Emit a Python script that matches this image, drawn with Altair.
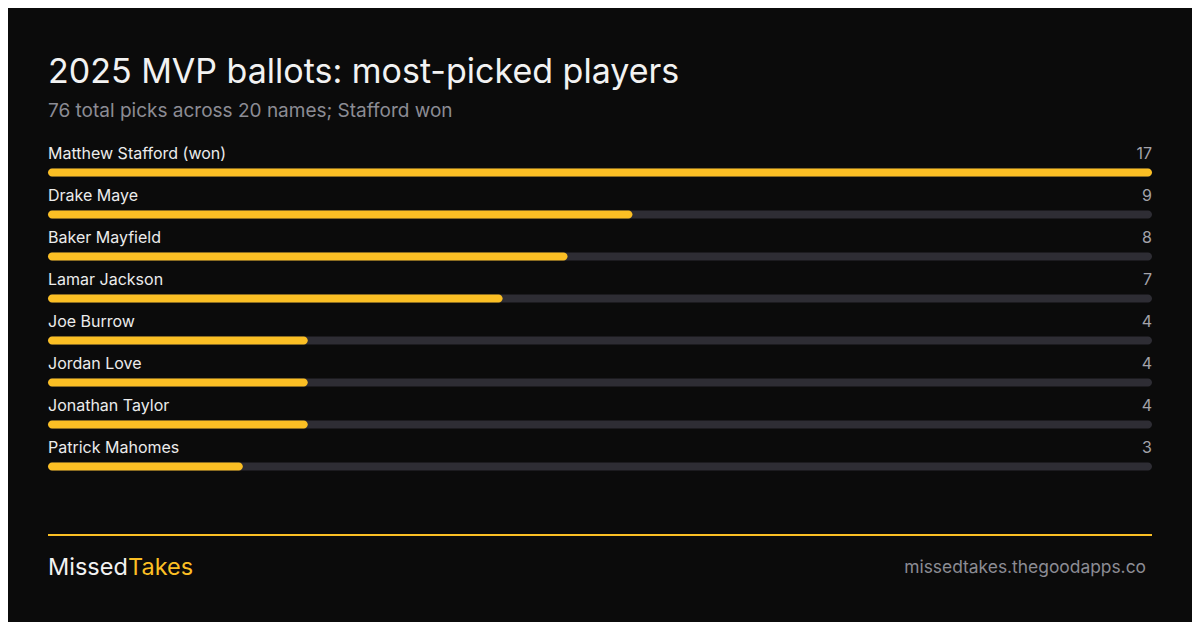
import altair as alt
import pandas as pd

# Data
names = [
    "Matthew Stafford (won)",
    "Drake Maye",
    "Baker Mayfield",
    "Lamar Jackson",
    "Joe Burrow",
    "Jordan Love",
    "Jonathan Taylor",
    "Patrick Mahomes",
]
picks = [17, 9, 8, 7, 4, 4, 4, 3]

title_text = "2025 MVP ballots: most-picked players"
subtitle_text = "76 total picks across 20 names; Stafford won"
brand_left = "Missed"
brand_right = "Takes"
site_text = "missedtakes.thegoodapps.co"

BG = "#0b0b0b"
YELLOW = "#fbbf24"
TRACK = "#2e2d34"
FONT = "Inter"

# page = chart + 8px margin on every side
W, H = 1184, 614
X0, X1 = 40, 1144

df = pd.DataFrame({"name": names, "picks": picks, "row": list(range(len(names)))})
max_picks = max(picks)

x_scale = alt.Scale(domain=[0, max_picks], range=[X0, X1])
y_scale = alt.Scale(domain=[0, len(names) - 1], range=[164.5, 458.5])

base = alt.Chart(df).transform_calculate(start="0", full=str(max_picks))

track = base.mark_rect(
    color=TRACK, cornerRadius=4, yOffset=-4, y2Offset=4
).encode(
    x=alt.X("start:Q", scale=x_scale, axis=None),
    x2="full:Q",
    y=alt.Y("row:Q", scale=y_scale, axis=None),
    y2="row:Q",
)

bars = base.mark_rect(
    color=YELLOW, cornerRadius=4, yOffset=-4, y2Offset=4
).encode(
    x=alt.X("start:Q", scale=x_scale, axis=None),
    x2="picks:Q",
    y=alt.Y("row:Q", scale=y_scale, axis=None),
    y2="row:Q",
)

labels = base.mark_text(
    align="left", baseline="alphabetic", dy=-13.5, font=FONT, fontSize=16, color="#ececec"
).encode(
    x=alt.value(X0),
    y=alt.Y("row:Q", scale=y_scale, axis=None),
    text="name:N",
)

values = base.mark_text(
    align="right", baseline="alphabetic", dy=-13.5, font=FONT, fontSize=16, color="#a3a3aa"
).encode(
    x=alt.value(X1),
    y=alt.Y("row:Q", scale=y_scale, axis=None),
    text="picks:Q",
)

one = alt.Chart(pd.DataFrame({"k": [0]}))

title = one.mark_text(
    text=title_text, align="left", baseline="alphabetic", font=FONT, fontSize=34, color="#f2f2f2"
).encode(x=alt.value(X0), y=alt.value(74.5))

subtitle = one.mark_text(
    text=subtitle_text, align="left", baseline="alphabetic", font=FONT, fontSize=19, color="#8c8c94"
).encode(x=alt.value(X0), y=alt.value(109))

footer_rule = one.mark_rule(color=YELLOW, strokeWidth=2).encode(
    x=alt.value(X0), x2=alt.value(X1), y=alt.value(527)
)

brand_a = one.mark_text(
    text=brand_left, align="left", baseline="alphabetic", font=FONT, fontSize=23.5, color="#f2f2f2"
).encode(x=alt.value(X0), y=alt.value(567))

brand_b = one.mark_text(
    text=brand_right, align="left", baseline="alphabetic", font=FONT, fontSize=23.5, color=YELLOW
).encode(x=alt.value(120), y=alt.value(567))

site = one.mark_text(
    text=site_text, align="right", baseline="alphabetic", font=FONT, fontSize=17.4, color="#8c8c94"
).encode(x=alt.value(1138), y=alt.value(565))

chart = (
    alt.layer(track, bars, labels, values, title, subtitle, footer_rule, brand_a, brand_b, site)
    .properties(
        width=W,
        height=H,
        autosize=alt.AutoSizeParams(type="none"),
        padding=0,
        background=BG,
    )
    .configure_view(stroke=None)
)

chart.save("out.html", embed_options={"renderer": "svg", "actions": False})
